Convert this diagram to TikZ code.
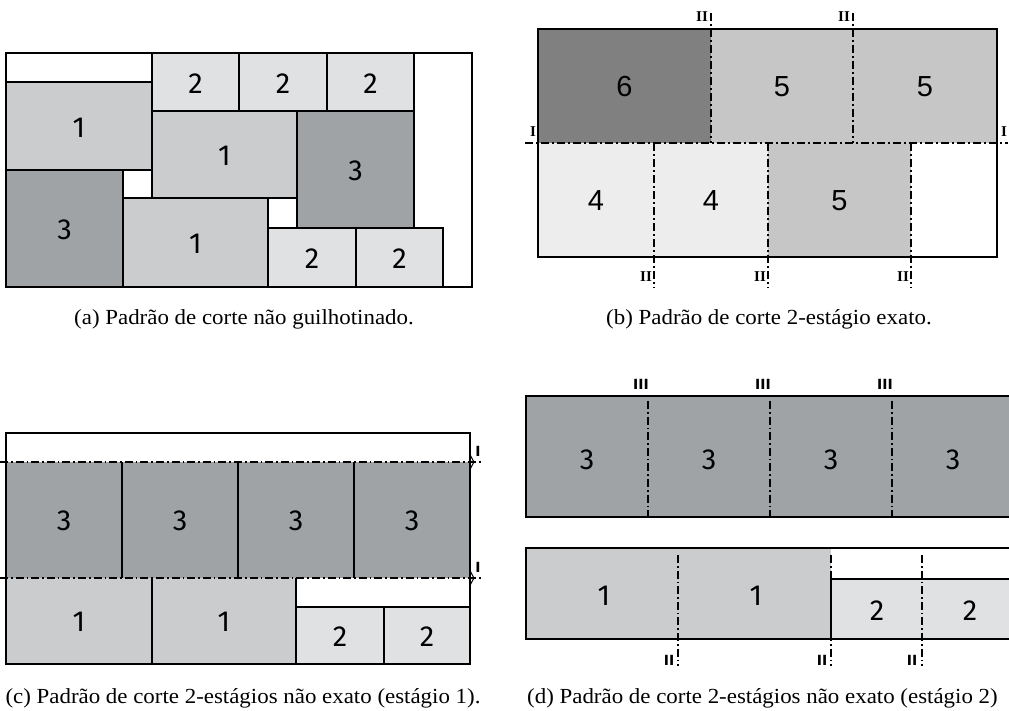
\documentclass[tikz,border=0pt]{standalone}
\usepackage{fontspec}
\setmainfont{Liberation Serif}
\newfontfamily\numfont{Fira Sans}
\newfontfamily\arialfont{Liberation Sans}
\newfontfamily\tagfont{DejaVu Sans}
\usetikzlibrary{calc}

\definecolor{pOne}{HTML}{CBCCCE}
\definecolor{pTwo}{HTML}{E0E1E3}
\definecolor{pThree}{HTML}{A0A3A6}
\definecolor{bSix}{HTML}{808080}
\definecolor{bFive}{HTML}{C6C6C6}
\definecolor{bFour}{HTML}{EDEDED}

\tikzset{
  piece/.style={draw=black, line width=1.4pt},
  frame/.style={draw=black, line width=1.9pt},
  edge/.style={draw=black, line width=1.5pt},
  cutline/.style={draw=black, line width=1.4pt, dash pattern=on 8pt off 3pt on 1.6pt off 3pt},
  bcut/.style={draw=black, line width=2.2pt, dash pattern=on 8pt off 3pt on 2pt off 3pt},
  num/.style={font=\numfont\fontsize{29}{31}\selectfont, inner sep=0pt},
  bnum/.style={font=\arialfont\fontsize{29}{31}\selectfont, inner sep=0pt},
  romtag/.style={font=\bfseries\fontsize{15}{16}\selectfont, inner sep=0pt},
  sanstag/.style={font=\tagfont\bfseries\fontsize{14}{15}\selectfont, inner sep=0pt},
  captext/.style={font=\fontsize{21.5}{24}\selectfont, inner sep=0pt, anchor=base, xscale=1.065},
}

% a filled, outlined piece with its number in the middle
\newcommand\cutpiece[7]{%
  \draw[piece, fill=#6] (#2,#3) rectangle (#4,#5);
  \node[num] (#1) at ({(#2+#4)/2},{(#3+#5)/2+1.5}) {#7};}
% a filled piece with no outline
\newcommand\flatpiece[8]{%
  \fill[#6] (#2,#3) rectangle (#4,#5);
  \node[#8] (#1) at ({(#2+#4)/2},{(#3+#5)/2+1}) {#7};}

\begin{document}
\begin{tikzpicture}[x=1pt,y=-1pt]
\useasboundingbox (0,0) rectangle (1009,711);

% ---------- (a) non-guillotine pattern ----------
\cutpiece{a1}{6}{82}{152}{170}{pOne}{1}
\cutpiece{a2}{6}{170}{123}{287}{pThree}{3}
\cutpiece{a3}{152}{53}{239}{111}{pTwo}{2}
\cutpiece{a4}{239}{53}{327}{111}{pTwo}{2}
\cutpiece{a5}{327}{53}{414}{111}{pTwo}{2}
\cutpiece{a6}{152}{111}{297}{198}{pOne}{1}
\cutpiece{a7}{297}{111}{414}{228}{pThree}{3}
\cutpiece{a8}{123}{198}{268}{287}{pOne}{1}
\cutpiece{a9}{268}{228}{356}{287}{pTwo}{2}
\cutpiece{a10}{356}{228}{443}{287}{pTwo}{2}
\draw[frame] (6,53) rectangle (472,287);

% ---------- (b) exact 2-stage pattern ----------
\flatpiece{b1}{538}{29}{711}{143}{bSix}{6}{bnum}
\flatpiece{b2}{711}{29}{853}{143}{bFive}{5}{bnum}
\flatpiece{b3}{853}{29}{997}{143}{bFive}{5}{bnum}
\flatpiece{b4}{538}{143}{654}{257}{bFour}{4}{bnum}
\flatpiece{b5}{654}{143}{768}{257}{bFour}{4}{bnum}
\flatpiece{b6}{768}{143}{911}{257}{bFive}{5}{bnum}
\draw[frame, line width=2.2pt] (538,29) rectangle (997,257);
\draw[bcut] (525,143) -- (1008,143);
\draw[bcut] (711,13) -- (711,143);
\draw[bcut] (853,13) -- (853,143);
\draw[bcut] (654,143) -- (654,288);
\draw[bcut] (768,143) -- (768,288);
\draw[bcut] (911,143) -- (911,288);
\node[romtag] (bIl) at (533,132) {I};
\node[romtag] (bIr) at (1004,132) {I};
\node[romtag] (bIIa) at (702,17) {II};
\node[romtag] (bIIb) at (844,17) {II};
\node[romtag] (bIIc) at (646,277) {II};
\node[romtag] (bIId) at (760,277) {II};
\node[romtag] (bIIe) at (903,277) {II};

% ---------- (c) non-exact 2-stage pattern, stage 1 ----------
\flatpiece{c1}{6}{462}{122}{578}{pThree}{3}{num}
\flatpiece{c2}{122}{462}{238}{578}{pThree}{3}{num}
\flatpiece{c3}{238}{462}{354}{578}{pThree}{3}{num}
\flatpiece{c4}{354}{462}{470}{578}{pThree}{3}{num}
\flatpiece{c5}{6}{578}{152}{664}{pOne}{1}{num}
\flatpiece{c6}{152}{578}{296}{664}{pOne}{1}{num}
\flatpiece{c7}{296}{607}{384}{664}{pTwo}{2}{num}
\flatpiece{c8}{384}{607}{470}{664}{pTwo}{2}{num}
\draw[edge] (122,462) -- (122,578) (238,462) -- (238,578) (354,462) -- (354,578);
\draw[edge] (152,578) -- (152,664) (296,578) -- (296,664) (384,607) -- (384,664);
\draw[edge] (296,607) -- (470,607);
\draw[edge] (6,433) rectangle (470,664);
\draw[cutline] (0,462) -- (483,462);
\draw[cutline] (0,578) -- (483,578);
\draw[line width=1pt] (470,452) .. controls (470,458) and (473,458) .. (474,462)
                      .. controls (473,466) and (470,466) .. (470,472);
\draw[line width=1pt] (470,568) .. controls (470,574) and (473,574) .. (474,578)
                      .. controls (473,582) and (470,582) .. (470,588);
\node[sanstag] (cI1) at (478,451) {I};
\node[sanstag] (cI2) at (478,567) {I};

% ---------- (d) non-exact 2-stage pattern, stage 2 ----------
\fill[pThree] (526,396) rectangle (1012,517);
\draw[edge] (1012,396) -- (526,396) -- (526,517) -- (1012,517);
\draw[cutline] (648,401) -- (648,517);
\draw[cutline] (770,401) -- (770,517);
\draw[cutline] (892,401) -- (892,517);
\node[num] (d1) at (587,460) {3};
\node[num] (d2) at (709,460) {3};
\node[num] (d3) at (831,460) {3};
\node[num] (d4) at (953,460) {3};
\node[sanstag] (dIIIa) at (641,384) {III};
\node[sanstag] (dIIIb) at (763,384) {III};
\node[sanstag] (dIIIc) at (885,384) {III};

\fill[pOne] (526,548) rectangle (831,639);
\fill[pTwo] (831,579) rectangle (1012,639);
\draw[edge] (1012,548) -- (526,548) -- (526,639) -- (1012,639);
\draw[edge] (831,579) -- (1012,579);
\draw[edge] (831,579) -- (831,639);
\draw[cutline] (678,555) -- (678,666);
\draw[cutline] (831,555) -- (831,666);
\draw[cutline] (922,555) -- (922,666);
\node[num] (d5) at (604,596) {1};
\node[num] (d6) at (756,596) {1};
\node[num] (d7) at (877,611) {2};
\node[num] (d8) at (970,611) {2};
\node[sanstag] (dIIa) at (669,660) {II};
\node[sanstag] (dIIb) at (822,660) {II};
\node[sanstag] (dIIc) at (912,660) {II};

% ---------- captions ----------
\node[captext] (capa) at (244,324) {(a) Padrão de corte não guilhotinado.};
\node[captext] (capb) at (769,324) {(b) Padrão de corte 2-estágio exato.};
\node[captext] (capc) at (243,703) {(c) Padrão de corte 2-estágios não exato (estágio 1).};
\node[captext, anchor=base west] (capd) at (527,703) {(d) Padrão de corte 2-estágios não exato (estágio 2)};
\end{tikzpicture}
\end{document}
